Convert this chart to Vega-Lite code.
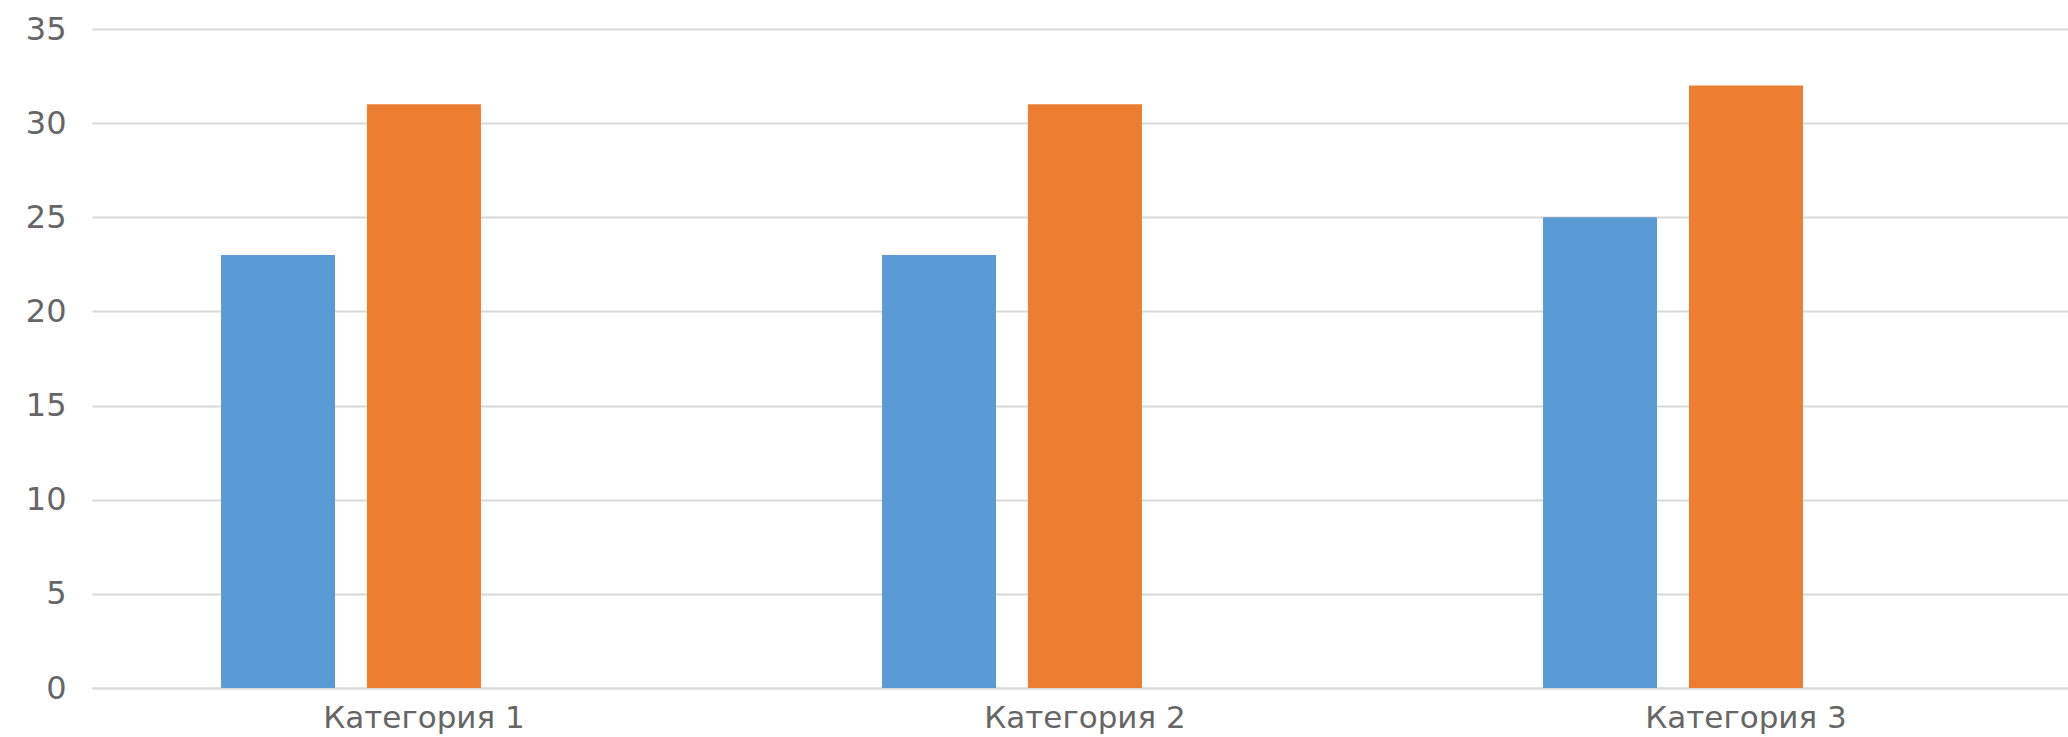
{
  "$schema": "https://vega.github.io/schema/vega-lite/v6.json",
  "width": 1976,
  "height": 659,
  "autosize": {"type": "none"},
  "padding": {"left": 92, "top": 29, "right": 0, "bottom": 49},
  "background": "white",
  "config": {
    "view": {"stroke": null},
    "font": "DejaVu Sans"
  },
  "data": {
    "values": [
      {"category": "Категория 1", "series": "Ряд 1", "value": 23},
      {"category": "Категория 1", "series": "Ряд 2", "value": 31},
      {"category": "Категория 2", "series": "Ряд 1", "value": 23},
      {"category": "Категория 2", "series": "Ряд 2", "value": 31},
      {"category": "Категория 3", "series": "Ряд 1", "value": 25},
      {"category": "Категория 3", "series": "Ряд 2", "value": 32}
    ]
  },
  "mark": {"type": "bar"},
  "encoding": {
    "x": {
      "field": "category",
      "type": "nominal",
      "sort": null,
      "scale": {"paddingInner": 0.386, "paddingOuter": 0.1877, "align": 0.52},
      "axis": {
        "title": null,
        "labelAngle": 0,
        "labelFont": "DejaVu Sans",
        "labelFontSize": 31,
        "labelColor": "#666666",
        "labelPadding": 15,
        "labelLimit": 0,
        "ticks": false,
        "domain": true,
        "domainColor": "#d9d9d9",
        "domainWidth": 2,
        "grid": false
      }
    },
    "xOffset": {
      "field": "series",
      "type": "nominal",
      "scale": {"domain": ["Ряд 1", "Ряд 2", "Ряд 3"], "paddingInner": 0.219, "paddingOuter": 0}
    },
    "y": {
      "field": "value",
      "type": "quantitative",
      "scale": {"domain": [0, 35], "nice": false},
      "axis": {
        "title": null,
        "values": [0, 5, 10, 15, 20, 25, 30, 35],
        "labelFont": "DejaVu Sans",
        "labelFontSize": 32,
        "labelColor": "#666666",
        "labelPadding": 26,
        "ticks": false,
        "domain": false,
        "grid": true,
        "gridColor": "#d9d9d9",
        "gridWidth": 2
      }
    },
    "color": {
      "field": "series",
      "type": "nominal",
      "scale": {"domain": ["Ряд 1", "Ряд 2", "Ряд 3"], "range": ["#5B9BD5", "#ED7D31", "#A5A5A5"]},
      "legend": null
    }
  }
}
